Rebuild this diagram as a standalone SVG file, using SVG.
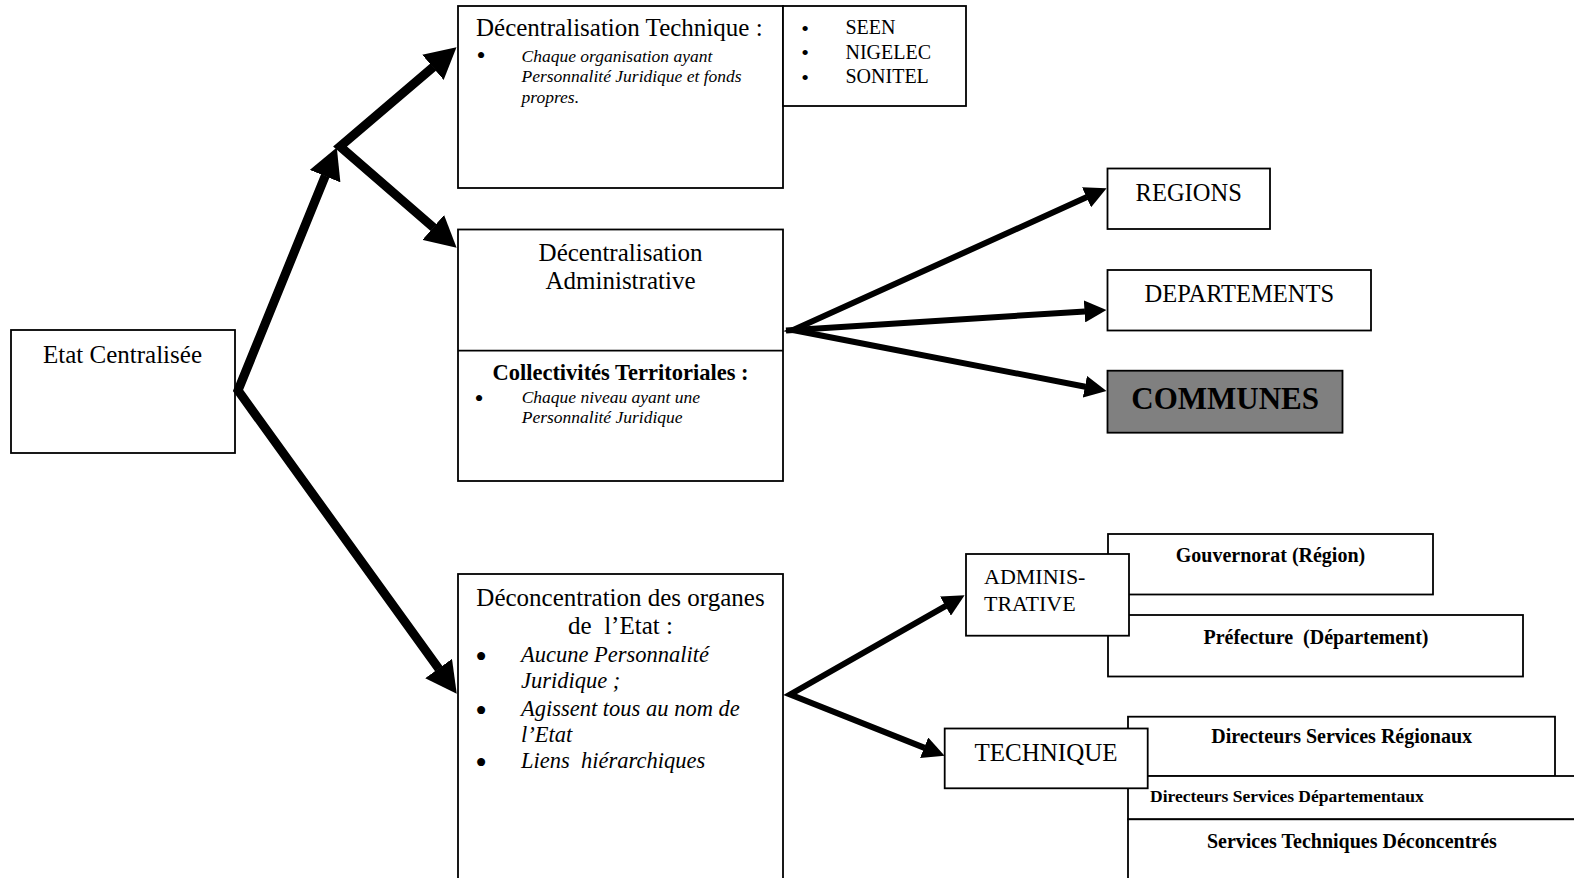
<svg xmlns="http://www.w3.org/2000/svg" width="1574" height="878" viewBox="0 0 1574 878">
<style>
.box{fill:#fff;stroke:#000;stroke-width:1.8}
.t{font-family:"Liberation Serif","Times New Roman",serif;fill:#000;white-space:pre}
.c{text-anchor:middle}
.b{font-weight:bold}
.i{font-style:italic}
.big{stroke:#000;stroke-width:9;fill:none;stroke-linejoin:miter;marker-start:url(#hb);marker-end:url(#hb)}
.sm{stroke:#000;stroke-width:6;fill:none;stroke-linejoin:miter;marker-start:url(#hs);marker-end:url(#hs)}
.sm1{stroke:#000;stroke-width:6;fill:none;marker-end:url(#hs)}
</style>
<defs>
<marker id="hb" markerUnits="userSpaceOnUse" viewBox="0 0 31 33" markerWidth="31" markerHeight="33" refX="0.5" refY="16.5" orient="auto-start-reverse"><path d="M0,0 L31,16.5 L0,33 z" fill="#000"/></marker>
<marker id="hs" markerUnits="userSpaceOnUse" viewBox="0 0 22 22" markerWidth="22" markerHeight="22" refX="0.5" refY="11" orient="auto-start-reverse"><path d="M0,0 L22,11 L0,22 z" fill="#000"/></marker>
</defs>
<rect width="1574" height="878" fill="#fff"/>

<g id="n-etat">
<rect class="box" x="11" y="330" width="224" height="123"/>
<text class="t c" x="122.5" y="362.7" font-size="25">Etat Centralisée</text>
</g>

<g id="n-dec-tech">
<rect class="box" x="458" y="6" width="325" height="182"/>
<text class="t" x="476" y="36" font-size="25">Décentralisation Technique :</text>
<text class="t c" x="481" y="64.2" font-size="26">•</text>
<text class="t i" x="521.5" y="61.7" font-size="17.5">Chaque organisation ayant</text>
<text class="t i" x="521.5" y="82.3" font-size="17.5">Personnalité Juridique et fonds</text>
<text class="t i" x="521.5" y="102.8" font-size="17.5">propres.</text>
</g>

<g id="n-seen">
<rect class="box" x="783" y="6" width="183" height="100"/>
<text class="t c" x="805" y="35.5" font-size="22">•</text>
<text class="t c" x="805" y="60" font-size="22">•</text>
<text class="t c" x="805" y="84.5" font-size="22">•</text>
<text class="t" x="845.5" y="34" font-size="20">SEEN</text>
<text class="t" x="845.5" y="58.5" font-size="20">NIGELEC</text>
<text class="t" x="845.5" y="83" font-size="20">SONITEL</text>
</g>

<g id="n-dec-admin">
<rect class="box" x="458" y="229.5" width="325" height="251.5"/>
<line x1="458" y1="350.7" x2="783" y2="350.7" stroke="#000" stroke-width="1.8"/>
<text class="t c" x="620.5" y="260.7" font-size="25">Décentralisation</text>
<text class="t c" x="620.5" y="289.3" font-size="25">Administrative</text>
<text class="t c b" x="620.5" y="380" font-size="22.5">Collectivités Territoriales :</text>
<text class="t c" x="479" y="407" font-size="26">•</text>
<text class="t i" x="521.7" y="402.7" font-size="17.5">Chaque niveau ayant une</text>
<text class="t i" x="521.7" y="423.3" font-size="17.5">Personnalité Juridique</text>
</g>

<g id="n-regions">
<rect class="box" x="1107.5" y="168.5" width="162.5" height="60.5"/>
<text class="t c" x="1188.7" y="200.7" font-size="24.5">REGIONS</text>
</g>

<g id="n-departements">
<rect class="box" x="1107.5" y="270" width="263.5" height="60.5"/>
<text class="t c" x="1239.3" y="301.7" font-size="24.5">DEPARTEMENTS</text>
</g>

<g id="n-communes">
<rect class="box" x="1107.5" y="370.7" width="235" height="62" style="fill:#808080"/>
<text class="t c b" x="1225.2" y="409.3" font-size="31">COMMUNES</text>
</g>

<g id="n-deconc">
<rect class="box" x="458" y="574" width="325" height="330"/>
<text class="t c" x="620.5" y="606" font-size="25">Déconcentration des organes</text>
<text class="t c" x="620.5" y="634" font-size="25">de  l’Etat :</text>
<text class="t c" x="481" y="667.5" font-size="33.5">•</text>
<text class="t c" x="481" y="721.8" font-size="33.5">•</text>
<text class="t c" x="481" y="774.1" font-size="33.5">•</text>
<text class="t i" x="521" y="661.7" font-size="22.5">Aucune Personnalité</text>
<text class="t i" x="521" y="688.3" font-size="22.5">Juridique ;</text>
<text class="t i" x="521" y="716" font-size="22.5">Agissent tous au nom de</text>
<text class="t i" x="521" y="741.7" font-size="22.5">l’Etat</text>
<text class="t i" x="521" y="768.3" font-size="22.5">Liens  hiérarchiques</text>
</g>

<g id="n-gouvernorat">
<rect class="box" x="1108" y="534" width="325" height="60.5"/>
<text class="t c b" x="1270.5" y="561.7" font-size="20">Gouvernorat (Région)</text>
</g>

<g id="n-prefecture">
<rect class="box" x="1108" y="615" width="415" height="61.5"/>
<text class="t c b" x="1316" y="644" font-size="20">Préfecture  (Département)</text>
</g>

<g id="n-administrative">
<rect class="box" x="966" y="554" width="163" height="81.7"/>
<text class="t" x="984" y="584.3" font-size="22">ADMINIS-</text>
<text class="t" x="984" y="610.7" font-size="22">TRATIVE</text>
</g>

<g id="n-dir-regionaux">
<rect class="box" x="1128" y="716.7" width="427" height="59.5"/>
<text class="t c b" x="1341.7" y="743.3" font-size="20">Directeurs Services Régionaux</text>
</g>

<g id="n-dir-departementaux">
<rect class="box" x="1128" y="776" width="470" height="43.3"/>
<text class="t b" x="1150" y="801.7" font-size="17.5">Directeurs Services Départementaux</text>
</g>

<g id="n-services-tech">
<rect class="box" x="1128" y="819.3" width="470" height="80"/>
<text class="t c b" x="1351.9" y="847.7" font-size="20">Services Techniques Déconcentrés</text>
</g>

<g id="n-technique">
<rect class="box" x="944.7" y="728.5" width="203" height="59.8"/>
<text class="t c" x="1046" y="760.7" font-size="25">TECHNIQUE</text>
</g>

<g id="connectors">
<path class="big" d="M325.3,175.7 L238,390.5 L438.9,668.9"/>
<path class="big" d="M433.3,67 L340,146.5 L433.6,227.7"/>
<path class="sm" d="M1087,197.1 L793,330 L1085.4,386.8"/>
<path class="sm1" d="M786,330.5 L1085,311.4"/>
<path class="sm" d="M945.9,605.9 L790.2,694.5 L924.6,747.9"/>
</g>
</svg>
